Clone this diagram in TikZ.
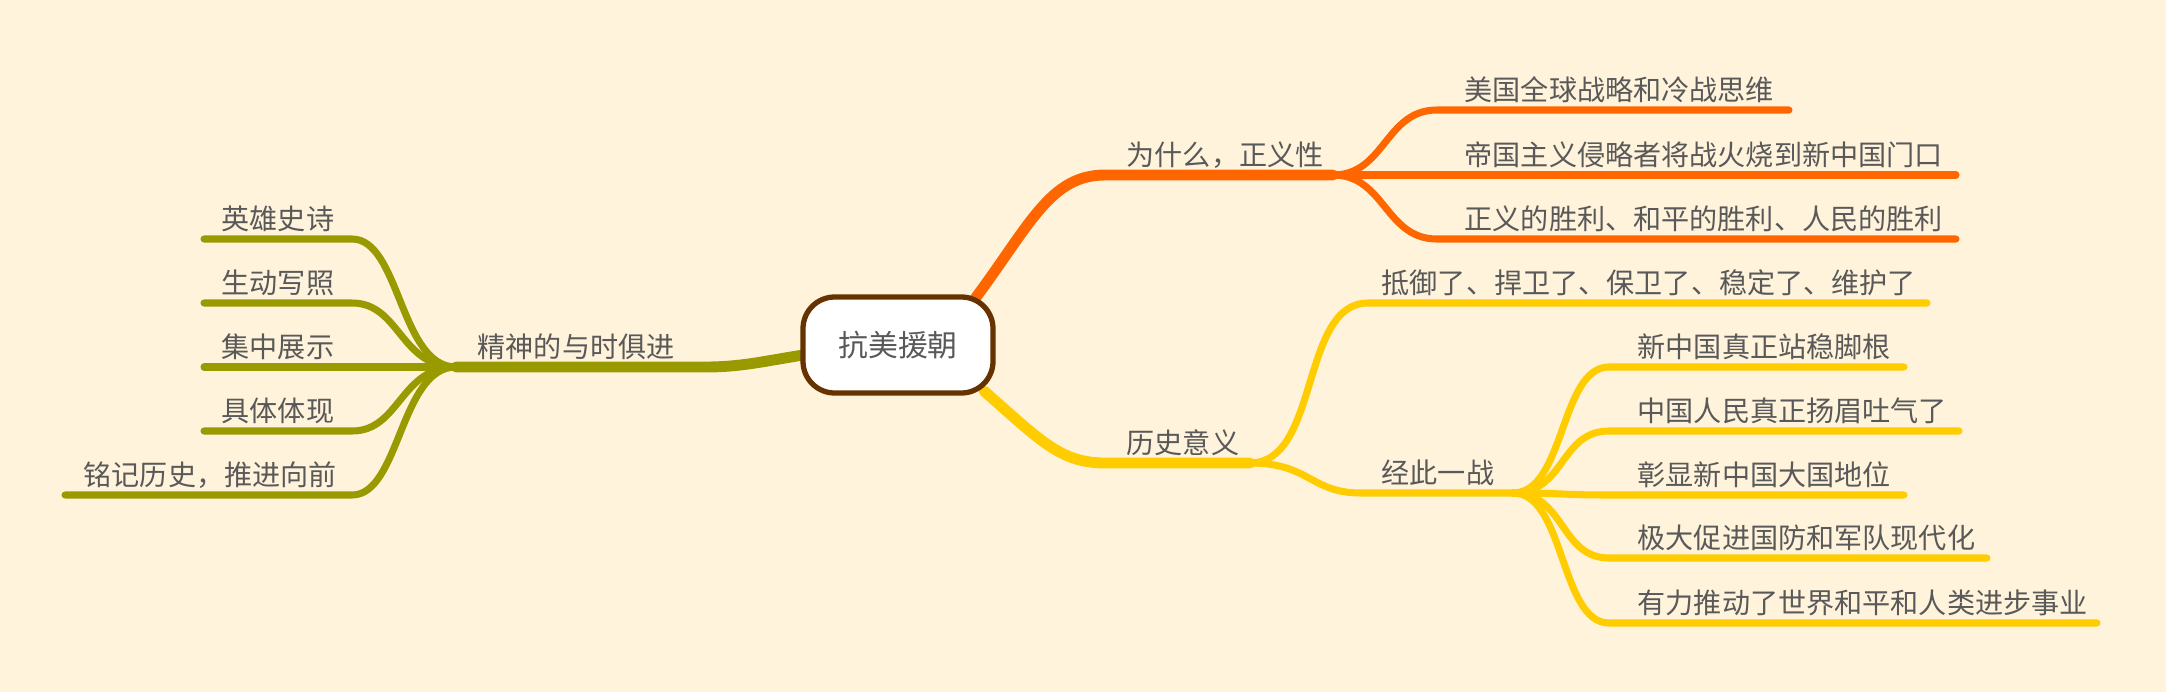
\documentclass[tikz,border=0pt]{standalone}
\usepackage{fontspec}
\setmainfont{Noto Sans CJK SC}
\usetikzlibrary{calc}
\definecolor{bgcol}{HTML}{FFF3DC}
\definecolor{txtcol}{HTML}{595959}
\definecolor{rootcol}{HTML}{663300}
\definecolor{orangecol}{HTML}{FF6600}
\definecolor{yellowcol}{HTML}{FFCC00}
\definecolor{olivecol}{HTML}{999900}
\tikzset{
  mainline/.style={line width=3.1pt, line cap=round},
  subline/.style={line width=2pt, line cap=round},
  leaftext/.style={anchor=base west, inner sep=0pt, text=txtcol, font=\fontsize{8}{9}\selectfont},
}
\begin{document}
\begin{tikzpicture}[x=0.1mm, y=-0.1mm]
\fill[bgcol] (0,0) rectangle (2166,692);
\useasboundingbox (0,0) rectangle (2166,692);

% orange branch
\coordinate (o0) at (974,300);
\coordinate (o1) at (1105,175);
\coordinate (oh) at (1333,175);
\draw[mainline, orangecol] (o0) .. controls (1030,225) and (1050,175) .. (o1) -- (oh);
\node[leaftext] (why) at (1126,165) {为什么，正义性};
\foreach \y/\e/\t [count=\i] in {110/1789/美国全球战略和冷战思维, 175/1956/帝国主义侵略者将战火烧到新中国门口, 239/1956/正义的胜利、和平的胜利、人民的胜利}{
  \coordinate (os\i) at (1437,\y);
  \coordinate (oe\i) at (\e,\y);
  \draw[subline, orangecol] (oh) .. controls (1385,175) and (1385,\y) .. (os\i) -- (oe\i);
  \node[leaftext] (ot\i) at (1464,\y-10) {\t};
}

% yellow branch
\coordinate (y0) at (984,391);
\coordinate (y1) at (1105,463);
\coordinate (yh) at (1250,463);
\draw[mainline, yellowcol] (y0) .. controls (1040,440) and (1060,463) .. (y1) -- (yh);
\node[leaftext] (hist) at (1126,453) {历史意义};
\coordinate (ys1) at (1368,303);
\coordinate (ye1) at (1927,303);
\draw[subline, yellowcol] (yh) .. controls (1320,463) and (1300,303) .. (ys1) -- (ye1);
\node[leaftext] (resist) at (1381,293) {抵御了、捍卫了、保卫了、稳定了、维护了};
\coordinate (ys2) at (1361,493);
\coordinate (yh2) at (1513,493);
\draw[subline, yellowcol] (yh) .. controls (1310,463) and (1310,493) .. (ys2) -- (yh2);
\node[leaftext] (war) at (1381,483) {经此一战};
\foreach \y/\e/\t [count=\i] in {367/1904/新中国真正站稳脚根, 431/1959/中国人民真正扬眉吐气了, 495/1904/彰显新中国大国地位, 558/1987/极大促进国防和军队现代化, 623/2097/有力推动了世界和平和人类进步事业}{
  \coordinate (ws\i) at (1609,\y);
  \coordinate (we\i) at (\e,\y);
  \draw[subline, yellowcol] (yh2) .. controls (1565,493) and (1560,\y) .. (ws\i) -- (we\i);
  \node[leaftext] (wt\i) at (1637,\y-10) {\t};
}

% olive branch
\coordinate (l0) at (803,355);
\coordinate (l1) at (705,367);
\coordinate (lh) at (456,367);
\draw[mainline, olivecol] (l0) .. controls (760,362) and (740,367) .. (l1) -- (lh);
\node[leaftext] (spirit) at (477,357) {精神的与时俱进};
\foreach \y/\s/\x/\t [count=\i] in {239/204/221/英雄史诗, 303/204/221/生动写照, 367/204/221/集中展示, 431/204/221/具体体现, 495/65/83/铭记历史，推进向前}{
  \coordinate (ls\i) at (352,\y);
  \coordinate (le\i) at (\s,\y);
  \draw[subline, olivecol] (lh) .. controls (400,367) and (400,\y) .. (ls\i) -- (le\i);
  \node[leaftext] (lt\i) at (\x,\y-10) {\t};
}

% root
\node[draw=rootcol, line width=1.5pt, fill=white, rounded corners=9pt,
  minimum width=19mm, minimum height=9.6mm, text=txtcol,
  font=\fontsize{8.5}{10}\selectfont] (root) at (898,345) {抗美援朝};
\end{tikzpicture}
\end{document}
